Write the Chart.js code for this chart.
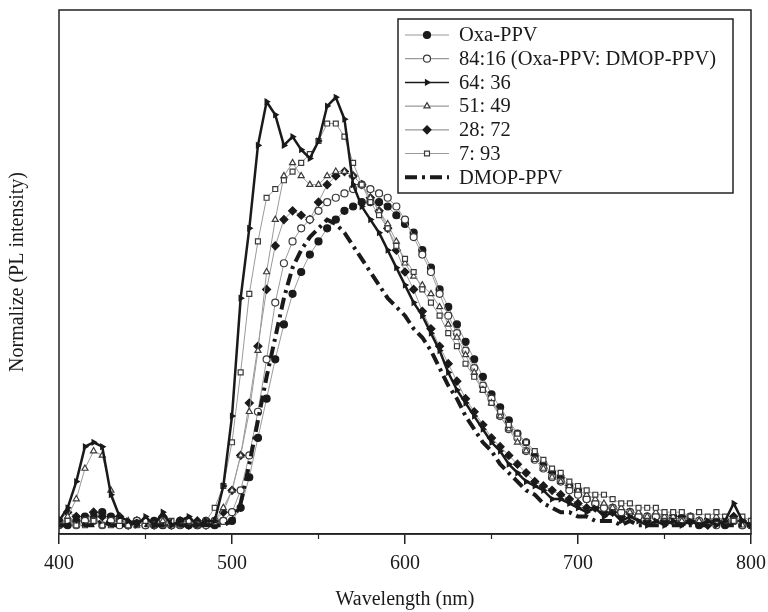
<!DOCTYPE html>
<html>
<head>
<meta charset="utf-8">
<script src="https://cdn.jsdelivr.net/npm/chart.js@4.4.1/dist/chart.umd.min.js"></script>
<style>
  html, body { margin: 0; padding: 0; background: #fff; }
  #wrap { width: 768px; height: 612px; position: relative; }
</style>
</head>
<body>
<div id="wrap"><canvas id="plChart"></canvas></div>
<script>
// wavelength grid (nm)
const wavelengths = [
  400, 405, 410, 415, 420, 425, 430, 435, 440, 445,
  450, 455, 460, 465, 470, 475, 480, 485, 490, 495,
  500, 505, 510, 515, 520, 525, 530, 535, 540, 545,
  550, 555, 560, 565, 570, 575, 580, 585, 590, 595,
  600, 605, 610, 615, 620, 625, 630, 635, 640, 645,
  650, 655, 660, 665, 670, 675, 680, 685, 690, 695,
  700, 705, 710, 715, 720, 725, 730, 735, 740, 745,
  750, 755, 760, 765, 770, 775, 780, 785, 790, 795,
  800
];

const oxaPPV = [
  0.03, 0.02, 0.03, 0.04, 0.04, 0.05, 0.04, 0.03, 0.02, 0.03,
  0.02, 0.03, 0.02, 0.02, 0.03, 0.02, 0.02, 0.03, 0.02, 0.03,
  0.03, 0.06, 0.13, 0.22, 0.31, 0.40, 0.48, 0.55, 0.60, 0.64,
  0.67, 0.70, 0.72, 0.74, 0.75, 0.76, 0.76, 0.76, 0.75, 0.73,
  0.71, 0.69, 0.65, 0.61, 0.56, 0.52, 0.48, 0.44, 0.40, 0.36,
  0.32, 0.29, 0.26, 0.23, 0.21, 0.18, 0.16, 0.14, 0.13, 0.11,
  0.10, 0.08, 0.07, 0.06, 0.06, 0.05, 0.05, 0.04, 0.04, 0.04,
  0.03, 0.04, 0.03, 0.03, 0.02, 0.03, 0.03, 0.02, 0.03, 0.02,
  0.02
];

const blend8416 = [
  0.02, 0.03, 0.02, 0.03, 0.03, 0.02, 0.03, 0.02, 0.02, 0.03,
  0.02, 0.02, 0.03, 0.02, 0.02, 0.03, 0.02, 0.02, 0.03, 0.03,
  0.05, 0.10, 0.18, 0.28, 0.40, 0.53, 0.62, 0.67, 0.70, 0.72,
  0.74, 0.76, 0.77, 0.78, 0.79, 0.80, 0.79, 0.78, 0.77, 0.75,
  0.72, 0.68, 0.64, 0.60, 0.55, 0.50, 0.46, 0.42, 0.38, 0.34,
  0.31, 0.27, 0.24, 0.22, 0.19, 0.17, 0.15, 0.13, 0.12, 0.10,
  0.09, 0.08, 0.07, 0.06, 0.06, 0.05, 0.05, 0.04, 0.04, 0.04,
  0.04, 0.03, 0.03, 0.04, 0.03, 0.03, 0.02, 0.03, 0.03, 0.02,
  0.02
];

const blend6436 = [
  0.03, 0.06, 0.12, 0.20, 0.21, 0.20, 0.09, 0.04, 0.03, 0.02,
  0.04, 0.02, 0.05, 0.02, 0.03, 0.04, 0.02, 0.03, 0.03, 0.11,
  0.27, 0.54, 0.70, 0.89, 0.99, 0.96, 0.89, 0.91, 0.88, 0.86,
  0.90, 0.98, 1.00, 0.95, 0.80, 0.75, 0.72, 0.69, 0.65, 0.61,
  0.57, 0.53, 0.50, 0.46, 0.42, 0.37, 0.33, 0.30, 0.27, 0.24,
  0.21, 0.19, 0.16, 0.14, 0.12, 0.11, 0.10, 0.08, 0.08, 0.07,
  0.06, 0.05, 0.06, 0.04, 0.05, 0.03, 0.04, 0.03, 0.02, 0.03,
  0.02, 0.03, 0.02, 0.03, 0.02, 0.03, 0.02, 0.03, 0.07, 0.03,
  0.02
];

const blend5149 = [
  0.02, 0.04, 0.08, 0.15, 0.19, 0.18, 0.10, 0.04, 0.03, 0.02,
  0.03, 0.02, 0.03, 0.02, 0.02, 0.03, 0.02, 0.03, 0.03, 0.06,
  0.10, 0.18, 0.28, 0.42, 0.60, 0.72, 0.82, 0.85, 0.82, 0.80,
  0.80, 0.82, 0.83, 0.83, 0.82, 0.80, 0.77, 0.74, 0.71, 0.67,
  0.62, 0.59, 0.57, 0.55, 0.52, 0.48, 0.45, 0.41, 0.37, 0.33,
  0.30, 0.27, 0.24, 0.21, 0.19, 0.17, 0.15, 0.13, 0.12, 0.11,
  0.10, 0.09, 0.08, 0.07, 0.06, 0.06, 0.05, 0.05, 0.04, 0.05,
  0.04, 0.04, 0.03, 0.04, 0.03, 0.03, 0.04, 0.03, 0.03, 0.02,
  0.03
];

const blend2872 = [
  0.03, 0.05, 0.04, 0.03, 0.05, 0.04, 0.03, 0.04, 0.02, 0.03,
  0.03, 0.02, 0.04, 0.02, 0.03, 0.02, 0.03, 0.02, 0.03, 0.05,
  0.10, 0.18, 0.30, 0.43, 0.56, 0.66, 0.72, 0.74, 0.73, 0.72,
  0.76, 0.80, 0.82, 0.83, 0.82, 0.80, 0.77, 0.74, 0.70, 0.65,
  0.60, 0.56, 0.51, 0.47, 0.43, 0.39, 0.35, 0.31, 0.28, 0.25,
  0.22, 0.20, 0.18, 0.16, 0.14, 0.12, 0.11, 0.10, 0.09, 0.08,
  0.07, 0.06, 0.06, 0.05, 0.05, 0.04, 0.05, 0.04, 0.03, 0.04,
  0.03, 0.03, 0.04, 0.03, 0.03, 0.02, 0.03, 0.03, 0.04, 0.03,
  0.02
];

const blend793 = [
  0.02, 0.03, 0.02, 0.02, 0.03, 0.02, 0.02, 0.03, 0.02, 0.02,
  0.03, 0.02, 0.02, 0.03, 0.02, 0.03, 0.02, 0.03, 0.06, 0.11,
  0.21, 0.37, 0.55, 0.67, 0.77, 0.79, 0.81, 0.83, 0.85, 0.87,
  0.90, 0.94, 0.94, 0.91, 0.85, 0.80, 0.76, 0.73, 0.70, 0.66,
  0.63, 0.60, 0.56, 0.53, 0.50, 0.46, 0.43, 0.39, 0.36, 0.33,
  0.30, 0.28, 0.25, 0.23, 0.21, 0.19, 0.17, 0.15, 0.14, 0.12,
  0.11, 0.10, 0.09, 0.09, 0.08, 0.07, 0.07, 0.06, 0.06, 0.06,
  0.05, 0.05, 0.05, 0.04, 0.05, 0.04, 0.05, 0.04, 0.03, 0.04,
  0.03
];

const dmopPPV = [
  0.02, 0.02, 0.03, 0.02, 0.02, 0.03, 0.02, 0.02, 0.02, 0.03,
  0.02, 0.02, 0.02, 0.03, 0.02, 0.02, 0.02, 0.02, 0.02, 0.02,
  0.03, 0.07, 0.16, 0.26, 0.36, 0.45, 0.54, 0.61, 0.65, 0.68,
  0.70, 0.72, 0.71, 0.69, 0.66, 0.63, 0.60, 0.57, 0.54, 0.52,
  0.50, 0.47, 0.45, 0.42, 0.38, 0.34, 0.31, 0.27, 0.24, 0.21,
  0.19, 0.16, 0.14, 0.12, 0.10, 0.09, 0.07, 0.06, 0.05, 0.05,
  0.04, 0.04, 0.03, 0.03, 0.03, 0.02, 0.03, 0.02, 0.02, 0.02,
  0.02, 0.02, 0.02, 0.02, 0.02, 0.02, 0.02, 0.02, 0.02, 0.02,
  0.02
];

const seriesNames = ['Oxa-PPV', '84:16 (Oxa-PPV: DMOP-PPV)', '64: 36', '51: 49', '28: 72', '7: 93', 'DMOP-PPV'];
const xTickValues = [400, 500, 600, 700, 800];
const xMinorTicks = [450, 550, 650, 750];

const serif = '"Liberation Serif", "DejaVu Serif", serif';
const ink = '#1a1a1a';

function toPoints(values) {
  return wavelengths.map((w, i) => ({ x: w, y: values[i] }));
}

function markerSeries(label, values, style, filled, order, extra) {
  return Object.assign({
    label: label,
    data: toPoints(values),
    borderColor: '#9a9a9a',
    borderWidth: 1,
    pointStyle: style,
    pointRadius: 3.5,
    pointBorderWidth: 1.2,
    pointBackgroundColor: filled ? ink : '#fff',
    pointBorderColor: filled ? ink : '#3a3a3a',
    order: order
  }, extra || {});
}

const datasets = [
  markerSeries(seriesNames[0], oxaPPV, 'circle', true, 6),
  markerSeries(seriesNames[1], blend8416, 'circle', false, 4),
  markerSeries(seriesNames[2], blend6436, 'triangle', true, 1, {
    borderColor: ink, borderWidth: 2.5, pointRotation: 90, pointRadius: 3
  }),
  markerSeries(seriesNames[3], blend5149, 'triangle', false, 3),
  markerSeries(seriesNames[4], blend2872, 'rectRot', true, 5, { pointRadius: 4 }),
  markerSeries(seriesNames[5], blend793, 'rect', false, 2),
  {
    label: seriesNames[6],
    data: toPoints(dmopPPV),
    borderColor: ink,
    borderWidth: 4,
    borderDash: [12, 5, 3, 5],
    pointRadius: 0,
    order: 0
  }
];

// frame, minor ticks and the boxed legend inside the plot
const framePlugin = {
  id: 'framePlugin',
  afterDraw(chart) {
    const ctx = chart.ctx;
    const a = chart.chartArea;
    const xs = chart.scales.x;
    ctx.save();
    ctx.strokeStyle = '#222';
    ctx.lineWidth = 1.5;
    ctx.strokeRect(a.left, a.top, a.right - a.left, a.bottom - a.top);

    ctx.lineWidth = 1.2;
    xMinorTicks.forEach(v => {
      const px = xs.getPixelForValue(v);
      ctx.beginPath();
      ctx.moveTo(px, a.bottom);
      ctx.lineTo(px, a.bottom + 5);
      ctx.stroke();
    });

    // legend box
    const box = { left: 398, top: 19, right: 733, bottom: 193 };
    ctx.fillStyle = '#fff';
    ctx.fillRect(box.left, box.top, box.right - box.left, box.bottom - box.top);
    ctx.strokeStyle = '#222';
    ctx.lineWidth = 1.5;
    ctx.strokeRect(box.left, box.top, box.right - box.left, box.bottom - box.top);

    ctx.font = '20.5px ' + serif;
    ctx.textBaseline = 'middle';
    ctx.textAlign = 'left';
    chart.data.datasets.forEach((ds, i) => {
      const y = box.top + 16 + i * 23.7;
      ctx.save();
      ctx.strokeStyle = ds.borderColor;
      ctx.lineWidth = ds.label === seriesNames[6] ? 4 : (ds.borderWidth > 2 ? 1.5 : 1.2);
      ctx.setLineDash(ds.label === seriesNames[6] ? [12, 5, 3, 5] : []);
      ctx.beginPath();
      ctx.moveTo(405, y);
      ctx.lineTo(449, y);
      ctx.stroke();
      ctx.restore();
      if (ds.pointRadius > 0) {
        ctx.save();
        ctx.fillStyle = ds.pointBackgroundColor;
        ctx.strokeStyle = ds.pointBorderColor;
        ctx.lineWidth = 1.2;
        Chart.helpers.drawPoint(ctx, {
          pointStyle: ds.pointStyle,
          rotation: ds.pointRotation || 0,
          radius: ds.pointRadius,
          borderWidth: 1.2
        }, 427, y);
        ctx.restore();
      }
      ctx.fillStyle = ink;
      ctx.fillText(ds.label, 459, y + 1);
    });
    ctx.restore();
  }
};

new Chart(document.getElementById('plChart'), {
  type: 'line',
  data: { datasets: datasets },
  options: {
    responsive: true,
    maintainAspectRatio: false,
    animation: false,
    layout: { padding: { top: 10, right: 17, left: 0, bottom: 0 } },
    elements: { line: { tension: 0 } },
    plugins: {
      legend: { display: false },
      tooltip: { enabled: false }
    },
    scales: {
      x: {
        type: 'linear',
        min: 400,
        max: 800,
        afterBuildTicks(scale) {
          scale.ticks = xTickValues.map(v => ({ value: v }));
        },
        afterFit(scale) {
          scale.height = 78;
          scale.paddingLeft = 0;
          scale.paddingRight = 0;
        },
        ticks: { color: ink, font: { family: serif, size: 20 }, padding: 8, maxRotation: 0 },
        grid: { drawOnChartArea: false, tickLength: 10, color: '#222', lineWidth: 1.5 },
        border: { display: true, color: '#222', width: 1.5 },
        title: {
          display: true,
          text: 'Wavelength (nm)',
          color: ink,
          font: { family: serif, size: 20 },
          padding: { top: 0, bottom: 0 }
        }
      },
      y: {
        min: 0,
        max: 1.2,
        afterFit(scale) {
          scale.width = 59;
        },
        ticks: { display: false },
        grid: { display: false },
        border: { display: false },
        title: {
          display: true,
          text: 'Normalize (PL intensity)',
          color: ink,
          font: { family: serif, size: 20 },
          padding: { top: 6, bottom: 0 }
        }
      }
    }
  },
  plugins: [framePlugin]
});
</script>
</body>
</html>
